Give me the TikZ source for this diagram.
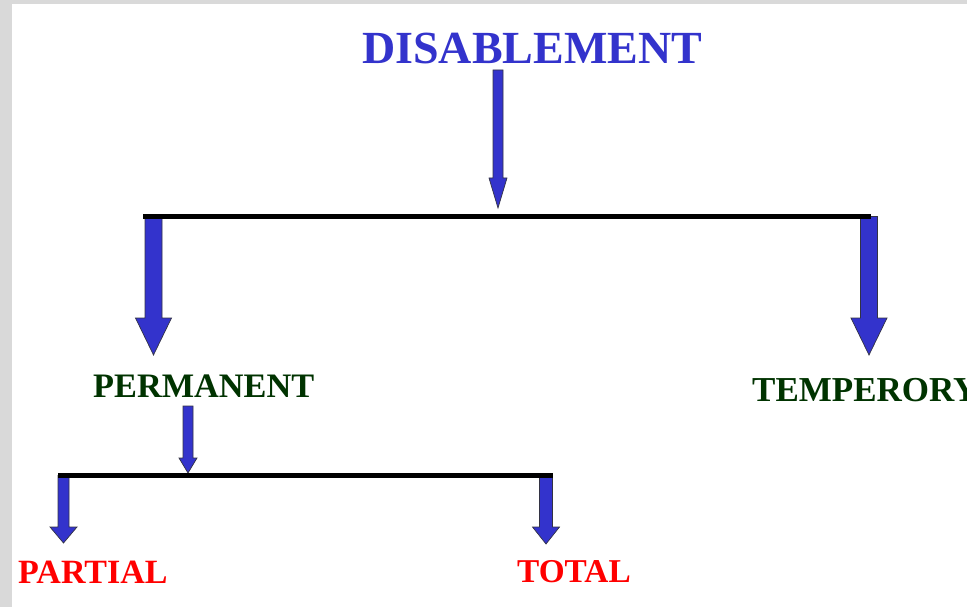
\documentclass[tikz,border=0pt]{standalone}
\usepackage{fontspec}
\setmainfont{Liberation Serif}
\usetikzlibrary{calc}
\definecolor{arrblue}{HTML}{3333CC}
\definecolor{arrline}{HTML}{333344}
\definecolor{dkgreen}{HTML}{003300}
\definecolor{bggray}{HTML}{D9D9D9}
% #1 start (y used), #2 tip, #3 half shaft, #4 half head, #5 head length
\newcommand\blockarr[5]{%
  \draw[arrsty] let \p1=(#1), \p2=(#2) in
    (\x2-#3,\y1) -- (\x2+#3,\y1) -- (\x2+#3,\y2+#5) -- (\x2+#4,\y2+#5)
    -- (\x2,\y2) -- (\x2-#4,\y2+#5) -- (\x2-#3,\y2+#5) -- cycle;}
\begin{document}
\begin{tikzpicture}[x=1pt,y=-1pt,
  lbl/.style={anchor=base west, inner sep=0pt, font=\bfseries},
  barsty/.style={line width=5pt, draw=black},
  arrsty/.style={fill=arrblue, draw=arrline, line width=0.7pt}]
\useasboundingbox (0,0) rectangle (967,607);
\fill[bggray] (0,0) rectangle (967,607);
\fill[white] (12,4) rectangle (967,607);

\node[lbl, text=arrblue] (dis) at (362,63.5) {\fontsize{46}{50}\selectfont DISABLEMENT};
\node[lbl, text=dkgreen] (perm) at (93,397) {\fontsize{34.3}{38}\selectfont PERMANENT};
\node[lbl, text=dkgreen] (temp) at (752,401) {\fontsize{35}{39}\selectfont TEMPERORY};
\node[lbl, text=red] (part) at (18,583) {\fontsize{34}{37}\selectfont PARTIAL};
\node[lbl, text=red] (tot) at (517,582) {\fontsize{33.3}{37}\selectfont TOTAL};

\coordinate (b1l) at (143,216.5);
\coordinate (b1r) at (871,216.5);
\coordinate (b2l) at (58,475.5);
\coordinate (b2r) at (552.5,475.5);
\coordinate (t1) at (498,208);
\coordinate (tperm) at (153.5,355);
\coordinate (ttemp) at (869,355);
\coordinate (t2) at (188,473);
\coordinate (tpart) at (63.5,543);
\coordinate (ttot) at (546,544);

\blockarr{$(dis.base)+(0,6.5)$}{t1}{5pt}{9pt}{30pt}
\blockarr{b1l}{tperm}{8.5pt}{18pt}{37pt}
\blockarr{b1r}{ttemp}{8.5pt}{18pt}{37pt}
\blockarr{$(perm.base)+(0,9)$}{t2}{5pt}{9pt}{15pt}
\blockarr{b2l}{tpart}{5.5pt}{13.5pt}{16pt}
\blockarr{b2r}{ttot}{6.5pt}{13.5pt}{17pt}

\draw[barsty] (b1l) -- (b1r);
\draw[barsty] (b2l) -- (b2r);
\end{tikzpicture}
\end{document}
